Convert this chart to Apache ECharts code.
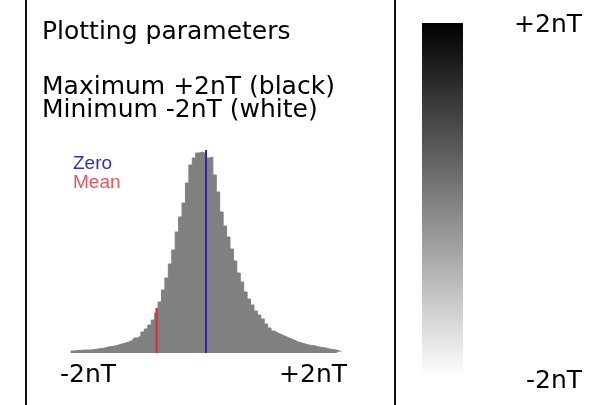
<!DOCTYPE html>
<html>
<head>
<meta charset="utf-8">
<script src="https://cdn.jsdelivr.net/npm/echarts@6/dist/echarts.min.js"></script>
<style>
html,body{margin:0;padding:0;background:#fff;}
#chart{width:604px;height:405px;}
</style>
</head>
<body>
<div id="chart"></div>
<script>
// Histogram of field values, bins of 0.05 nT from -2 to +2 nT (heights)
const binStart = -2;
const binWidth = 0.05;
const counts = [
  2, 2, 2.5, 2.5, 3, 3, 3, 3.5, 4, 4.5,
  5, 6, 6.5, 7, 8, 9, 10, 11, 12.5, 15,
  17, 21, 24, 28, 33, 40, 51, 63, 75, 89,
  103, 121, 136, 150, 170, 188, 195, 200, 201, 199,
  195, 196, 178, 161, 141, 127, 116, 104, 92, 80,
  71, 61, 54, 48, 42, 38, 34, 29, 25, 22,
  20, 18.5, 17, 15.5, 14, 12.5, 11, 10, 9, 8,
  7.5, 7, 6, 5.5, 5, 4, 3.5, 3, 2, 1.5
];
const categories = counts.map((_, i) => (binStart + binWidth * (i + 0.5)).toFixed(3));

const zeroValue = 0;
const meanValue = -0.72;
const zeroLine = [[zeroValue, 0], [zeroValue, 203]];
const meanLine = [[meanValue, 0], [meanValue, 45]];

// Colour scale: -2 nT white, +2 nT black
const rangeMin = -2;
const rangeMax = 2;
const colorMinHex = '#ffffff';
const colorMaxHex = '#000000';
const colorbarLabels = {'-2': '-2nT', '2': '+2nT'};

const infoTitle = 'Plotting parameters';
const infoMax = 'Maximum +2nT (black)';
const infoMin = 'Minimum -2nT (white)';
const histMinLabel = '-2nT';
const histMaxLabel = '+2nT';

const FONT = 'DejaVu Sans';
const span = rangeMax - rangeMin;
const chart = echarts.init(document.getElementById('chart'));
chart.setOption({
  animation: false,
  backgroundColor: '#ffffff',
  grid: [
    {left: 69, right: 261, top: 150, bottom: 52},
    {left: 422, top: 23, width: 41, height: 354},
    {left: 422, top: 25, width: 41, height: 356}
  ],
  xAxis: [
    {type: 'category', gridIndex: 0, data: categories, show: false, boundaryGap: true},
    {type: 'value', gridIndex: 0, min: rangeMin, max: rangeMax, show: false},
    {type: 'category', gridIndex: 1, data: ['scale'], show: false},
    {type: 'value', gridIndex: 2, min: 0, max: 1, show: false}
  ],
  yAxis: [
    {type: 'value', gridIndex: 0, min: 0, max: 203, show: false},
    {type: 'value', gridIndex: 1, min: 0, max: span, show: false},
    {type: 'value', gridIndex: 2, min: rangeMin, max: rangeMax, interval: 2,
     position: 'right',
     axisLine: {show: false}, axisTick: {show: false}, splitLine: {show: false},
     axisLabel: {
       margin: 119, align: 'right', fontFamily: FONT, fontSize: 25, color: '#000',
       formatter: v => colorbarLabels[String(v)] || ''
     }}
  ],
  legend: {
    orient: 'vertical', left: 73, top: 154, itemGap: 0, itemWidth: 0, itemHeight: 10,
    icon: 'none', padding: 0, selectedMode: false,
    textStyle: {fontFamily: 'Liberation Sans', fontSize: 19, lineHeight: 18, padding: [0,0,0,-5]},
    data: [
      {name: 'Zero', textStyle: {color: '#33339f'}},
      {name: 'Mean', textStyle: {color: '#e0585a'}}
    ]
  },
  series: [
    {
      name: 'Histogram', type: 'line', step: 'middle', xAxisIndex: 0, yAxisIndex: 0,
      data: counts, symbol: 'none', silent: true,
      lineStyle: {color: '#808080', width: 1},
      areaStyle: {color: '#808080', opacity: 1}
    },
    {
      name: 'Zero', type: 'line', xAxisIndex: 1, yAxisIndex: 0, data: zeroLine,
      symbol: 'none', lineStyle: {color: '#2b22b8', width: 2}, itemStyle: {color: '#2b22b8'}, z: 5
    },
    {
      name: 'Mean', type: 'line', xAxisIndex: 1, yAxisIndex: 0, data: meanLine,
      symbol: 'none', lineStyle: {color: '#e0303c', width: 2.5}, itemStyle: {color: '#e0303c'}, z: 5
    },
    {
      name: 'Colour scale', type: 'bar', xAxisIndex: 2, yAxisIndex: 1,
      data: [span], barWidth: '100%', silent: true,
      itemStyle: {
        color: new echarts.graphic.LinearGradient(0, 0, 0, 1, [
          {offset: 0, color: colorMaxHex},
          {offset: 1, color: colorMinHex}
        ])
      }
    }
  ],
  graphic: [
    {type: 'line', shape: {x1: 26, y1: 0, x2: 26, y2: 405}, style: {stroke: '#111', lineWidth: 2}},
    {type: 'line', shape: {x1: 395, y1: 0, x2: 395, y2: 405}, style: {stroke: '#111', lineWidth: 2}},
    {type: 'text', x: 42, y: 32, style: {text: infoTitle, fontFamily: FONT, fontSize: 25, fill: '#000', verticalAlign: 'middle'}},
    {type: 'text', x: 42, y: 87, style: {text: infoMax, fontFamily: FONT, fontSize: 25, fill: '#000', verticalAlign: 'middle'}},
    {type: 'text', x: 42, y: 110, style: {text: infoMin, fontFamily: FONT, fontSize: 25, fill: '#000', verticalAlign: 'middle'}},
    {type: 'text', x: 60, y: 375, style: {text: histMinLabel, fontFamily: FONT, fontSize: 25, fill: '#000', verticalAlign: 'middle'}},
    {type: 'text', x: 347, y: 375, style: {text: histMaxLabel, fontFamily: FONT, fontSize: 25, fill: '#000', align: 'right', verticalAlign: 'middle'}}
  ]
});
</script>
</body>
</html>
